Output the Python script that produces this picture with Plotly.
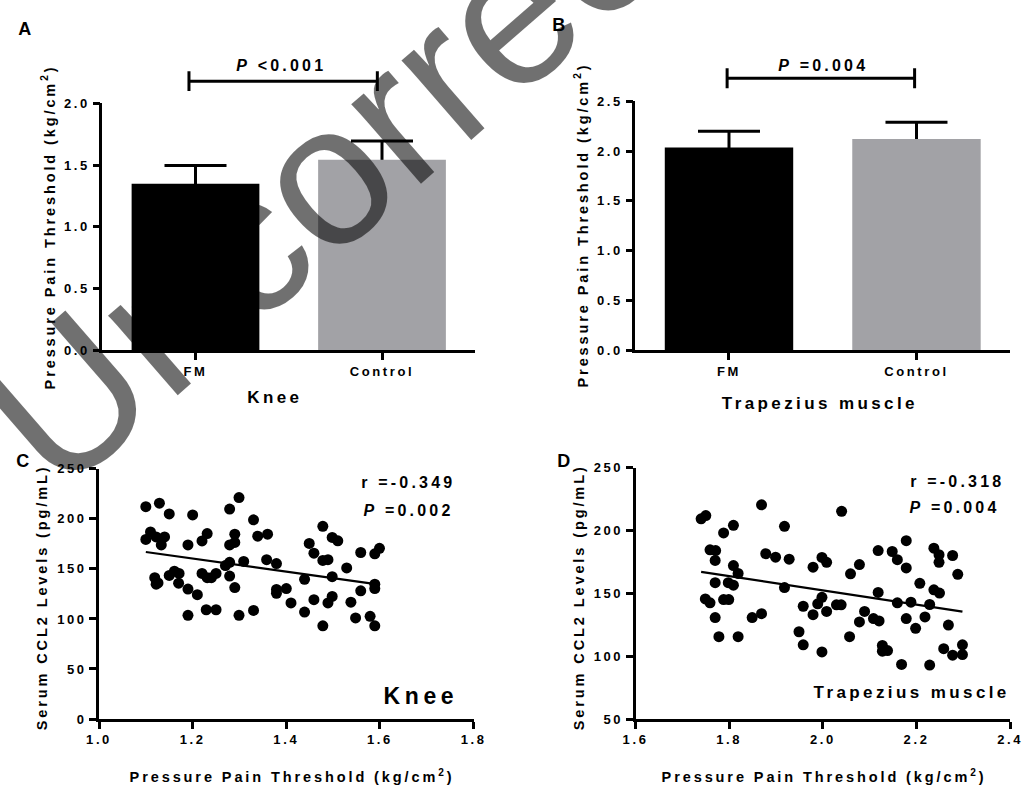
import numpy as np
import plotly.graph_objects as go

W, H = 1032, 796
FONT = "Liberation Sans"

# ---------------- data ----------------
groups = ["FM", "Control"]
knee_mean = [1.35, 1.545]
knee_sd = [0.147, 0.151]
trap_mean = [2.035, 2.12]
trap_sd = [0.164, 0.168]
bar_colors = ["#000000", "#a2a2a6"]

knee_bracket_y = 2.18
trap_bracket_y = 2.73
knee_p_text = "<i>P</i> &lt;0.001"
trap_p_text = "<i>P</i> =0.004"

knee_ppt = [1.100, 1.129, 1.150, 1.200, 1.279, 1.299, 1.330, 1.110, 1.100, 1.122,
            1.140, 1.133, 1.190, 1.220, 1.231, 1.290, 1.279, 1.290, 1.119, 1.122,
            1.126, 1.150, 1.161, 1.171, 1.170, 1.190, 1.210, 1.220, 1.231, 1.240,
            1.250, 1.270, 1.279, 1.279, 1.290, 1.309, 1.190, 1.229, 1.250, 1.299,
            1.330, 1.339, 1.360, 1.358, 1.379, 1.379, 1.400, 1.379, 1.410, 1.439,
            1.439, 1.449, 1.459, 1.459, 1.478, 1.478, 1.489, 1.478, 1.498, 1.510,
            1.498, 1.498, 1.489, 1.529, 1.538, 1.548, 1.559, 1.559, 1.579, 1.589,
            1.589, 1.589, 1.589, 1.599]
knee_ccl2 = [212.2, 215.7, 204.9, 203.9, 209.8, 221.3, 199.0, 187.0, 179.4, 182.0,
             182.0, 174.0, 174.0, 178.0, 185.3, 184.7, 174.0, 176.5, 141.2, 134.7,
             136.0, 143.5, 147.7, 145.5, 135.7, 129.8, 124.2, 145.5, 141.2, 141.2,
             145.5, 153.3, 156.6, 142.8, 131.4, 157.5, 103.6, 109.2, 109.2, 103.6,
             108.5, 182.7, 184.7, 159.2, 155.3, 129.5, 130.4, 125.6, 116.0, 139.6,
             106.9, 175.5, 165.7, 119.3, 192.5, 158.5, 159.2, 93.1, 181.4, 178.1,
             142.2, 122.5, 116.0, 151.0, 116.7, 101.0, 166.4, 128.1, 102.6, 93.1,
             134.7, 130.4, 165.1, 170.6]
knee_r_text = "r =-0.349"
knee_corr_p = "<i>P</i> =0.002"

trap_ppt = [1.740, 1.750, 1.869, 1.788, 1.809, 1.918, 1.759, 1.771, 1.770, 1.809,
            1.819, 1.878, 1.899, 1.928, 1.979, 1.998, 2.008, 1.770, 1.798, 1.809,
            1.918, 1.749, 1.759, 1.788, 1.799, 1.770, 1.849, 1.869, 1.778, 1.819,
            1.949, 1.958, 1.998, 1.958, 1.979, 1.989, 1.998, 2.008, 2.029, 2.039,
            2.040, 2.078, 2.059, 2.118, 2.148, 2.159, 2.178, 2.178, 2.237, 2.248,
            2.248, 2.277, 2.288, 2.118, 2.207, 2.237, 2.249, 2.089, 2.078, 2.108,
            2.120, 2.159, 2.188, 2.228, 2.178, 2.198, 2.218, 2.268, 2.057, 2.127,
            2.138, 2.127, 2.168, 2.228, 2.258, 2.277, 2.298, 2.298]
trap_ccl2 = [209.4, 212.0, 220.6, 198.2, 204.2, 203.4, 184.7, 184.1, 176.3, 172.2,
             165.9, 181.6, 178.9, 177.3, 170.9, 178.7, 174.8, 158.6, 158.6, 156.6,
             154.7, 145.6, 142.5, 145.1, 145.1, 130.8, 130.8, 133.9, 115.6, 115.6,
             119.5, 109.1, 103.4, 139.8, 133.1, 141.7, 146.9, 135.7, 140.9, 140.9,
             215.4, 173.0, 165.6, 184.1, 183.4, 176.9, 192.0, 170.3, 186.0, 180.8,
             174.8, 180.2, 165.2, 150.8, 158.1, 152.9, 150.3, 135.7, 127.3, 130.0,
             128.1, 142.5, 143.0, 141.2, 130.0, 122.2, 131.3, 124.8, 115.6, 108.6,
             104.5, 104.0, 93.5, 93.0, 106.0, 100.8, 109.1, 101.3]
trap_r_text = "r =-0.318"
trap_corr_p = "<i>P</i> =0.004"

ppt_title = "Pressure Pain Threshold (kg/cm<sup>2</sup>)"
ccl2_title = "Serum CCL2 Levels (pg/mL)"
watermark = "Uncorrected"


# ---------------- layout helpers ----------------
def px(x):
    return x / W


def py(y):
    return 1 - y / H


PANELS = {
    "A": dict(x0=95, x1=475, ytop=98.3, ybot=350, xr=[-0.5, 1.5], yr=[0, 2.0]),
    "B": dict(x0=638, x1=1020, ytop=96, ybot=350, xr=[-0.5, 1.5], yr=[0, 2.5]),
    "C": dict(x0=91.7, x1=473.3, ytop=470.7, ybot=725.7, xr=[1.0, 1.8], yr=[0, 250]),
    "D": dict(x0=638.3, x1=1020, ytop=469.7, ybot=725.7, xr=[1.6, 2.4], yr=[50, 250]),
}


def ypaper(panel, v):
    p = PANELS[panel]
    d0, d1 = py(p["ybot"]), py(p["ytop"])
    r0, r1 = p["yr"]
    return d0 + (v - r0) / (r1 - r0) * (d1 - d0)


fig = go.Figure()

axis_common = dict(
    showline=True, linecolor="black", linewidth=2.5, mirror=False,
    ticks="outside", ticklen=7, tickwidth=2.5, tickcolor="black",
    showgrid=False, zeroline=False, fixedrange=True,
    tickfont=dict(family=FONT, size=13, color="black", weight="bold"),
)

names = ["A", "B", "C", "D"]
for i, n in enumerate(names):
    p = PANELS[n]
    xa = "xaxis" if i == 0 else f"xaxis{i+1}"
    ya = "yaxis" if i == 0 else f"yaxis{i+1}"
    xid = "x" if i == 0 else f"x{i+1}"
    yid = "y" if i == 0 else f"y{i+1}"
    xkw = dict(axis_common, domain=[px(p["x0"]), px(p["x1"])], range=p["xr"], anchor=yid)
    ykw = dict(axis_common, domain=[py(p["ybot"]), py(p["ytop"])], range=p["yr"], anchor=xid)
    if n in ("A", "B"):
        xkw.update(tickmode="array", tickvals=[0, 1], ticktext=groups)
        ykw.update(tickmode="array",
                   tickvals=list(np.arange(p["yr"][0], p["yr"][1] + 1e-9, 0.5)),
                   tickformat=".1f")
    elif n == "C":
        xkw.update(tickmode="array", tickvals=[1.0, 1.2, 1.4, 1.6, 1.8], tickformat=".1f")
        ykw.update(tickmode="array", tickvals=[0, 50, 100, 150, 200, 250])
    else:
        xkw.update(tickmode="array", tickvals=[1.6, 1.8, 2.0, 2.2, 2.4], tickformat=".1f")
        ykw.update(tickmode="array", tickvals=[50, 100, 150, 200, 250])
    fig.update_layout({xa: xkw, ya: ykw})

# ---------------- bars (error bars first, bars drawn over their lower half) ----------------
for (means, sds, xid, yid) in [(knee_mean, knee_sd, "x", "y"), (trap_mean, trap_sd, "x2", "y2")]:
    fig.add_trace(go.Bar(
        x=[0, 1], y=means, width=0.685,
        marker=dict(color="rgba(0,0,0,0)", line=dict(width=0)),
        error_y=dict(type="data", array=sds, color="black", thickness=3, width=31),
        xaxis=xid, yaxis=yid, showlegend=False, hoverinfo="skip",
    ))
    fig.add_trace(go.Bar(
        x=[0, 1], y=means, width=0.685, marker=dict(color=bar_colors, line=dict(width=0)),
        xaxis=xid, yaxis=yid, showlegend=False,
    ))

# significance brackets
shapes = []
for panel, xref, yb, cap, xl, xr in [("A", "x", knee_bracket_y, 0.08, -0.035, 0.975),
                                     ("B", "x2", trap_bracket_y, 0.10, -0.01, 0.99)]:
    yy = ypaper(panel, yb)
    dy = ypaper(panel, yb + cap) - yy
    line = dict(color="black", width=3)
    shapes.append(dict(type="line", xref=xref, yref="paper", x0=xl, x1=xr, y0=yy, y1=yy, line=line))
    shapes.append(dict(type="line", xref=xref, yref="paper", x0=xl, x1=xl, y0=yy - dy, y1=yy + dy, line=line))
    shapes.append(dict(type="line", xref=xref, yref="paper", x0=xr, x1=xr, y0=yy - dy, y1=yy + dy, line=line))

# ---------------- scatter ----------------
for (xs, ys, xid, yid) in [(knee_ppt, knee_ccl2, "x3", "y3"), (trap_ppt, trap_ccl2, "x4", "y4")]:
    xs_a = np.array(xs)
    ys_a = np.array(ys)
    fig.add_trace(go.Scatter(
        x=xs_a, y=ys_a, mode="markers",
        marker=dict(color="black", size=11, line=dict(width=0)),
        xaxis=xid, yaxis=yid, showlegend=False, cliponaxis=False,
    ))
    slope, icpt = np.polyfit(xs_a, ys_a, 1)
    xl = np.array([xs_a.min(), xs_a.max()])
    fig.add_trace(go.Scatter(
        x=xl, y=slope * xl + icpt, mode="lines",
        line=dict(color="black", width=2.2),
        xaxis=xid, yaxis=yid, showlegend=False,
    ))

# ---------------- text ----------------
ann = []


def text(t, x, y, size, xanchor="center", yanchor="middle", angle=0, weight="bold",
         color="black", align="center"):
    ann.append(dict(text=t, x=px(x), y=py(y), xref="paper", yref="paper",
                    xanchor=xanchor, yanchor=yanchor, showarrow=False, textangle=angle,
                    align=align,
                    font=dict(family=FONT, size=size, color=color, weight=weight)))


text("A", 18, 22, 18)
text("B", 562, 18, 18)
text("C", 16, 463, 18)
text("D", 567, 463, 18)

text(ppt_title, 40, 224, 14.5, angle=-90)
text(ppt_title, 583, 222, 14.5, angle=-90)
text("Knee", 271, 398, 17)
text("Trapezius muscle", 826, 404, 17)
text(knee_p_text, 278, 60, 16)
text(trap_p_text, 830, 60, 16)

text(ccl2_title, 33, 601, 14.5, angle=-90)
text(ccl2_title, 580, 601, 14.5, angle=-90)
text(ppt_title, 288, 784, 14.5)
text(ppt_title, 830, 784, 14.5)
text(knee_r_text, 456, 485, 16, xanchor="right", align="right")
text(knee_corr_p, 455, 513, 16, xanchor="right", align="right")
text(trap_r_text, 1016, 484, 16, xanchor="right", align="right")
text(trap_corr_p, 1012, 510, 16, xanchor="right", align="right")
text("Knee", 459, 702, 23, xanchor="right", align="right")
text("Trapezius muscle", 1022, 699, 17, xanchor="right", align="right")

# watermark
text(watermark, 422, 84, 200, angle=-41, weight="normal", color="rgba(0,0,0,0.56)")

fig.update_layout(
    annotations=ann,
    shapes=shapes,
    barmode="overlay",
    width=W, height=H,
    margin=dict(l=0, r=0, t=0, b=0),
    paper_bgcolor="white", plot_bgcolor="white",
    showlegend=False,
)

post = """
document.body.style.margin = '0';
document.querySelectorAll('text').forEach(function (t) {
  var fs = parseFloat(window.getComputedStyle(t).fontSize);
  if (fs && fs < 100) { t.style.letterSpacing = (0.2 * fs).toFixed(2) + 'px'; }
});
"""

fig.write_html("out.html", config={"displayModeBar": False}, post_script=post)
